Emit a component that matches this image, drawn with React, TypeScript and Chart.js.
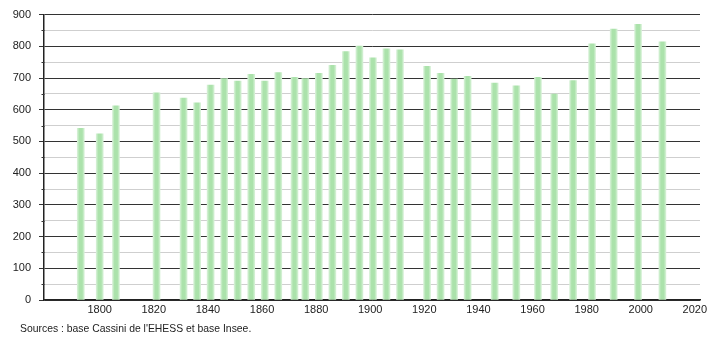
import React, { useEffect, useRef } from "react";
import { Chart, registerables } from "chart.js";

Chart.register(...registerables);

const years = [1793, 1800, 1806, 1821, 1831, 1836, 1841, 1846, 1851, 1856, 1861, 1866, 1872, 1876, 1881, 1886, 1891, 1896, 1901, 1906, 1911, 1921, 1926, 1931, 1936, 1946, 1954, 1962, 1968, 1975, 1982, 1990, 1999, 2008];
const population = [541, 524, 612, 653, 637, 622, 678, 698, 690, 712, 690, 717, 702, 698, 715, 740, 783, 801, 764, 792, 789, 737, 715, 697, 705, 684, 675, 702, 649, 692, 808, 854, 869, 814];
const yTickLabels = [0, 100, 200, 300, 400, 500, 600, 700, 800, 900];
const xTickLabels = [1800, 1820, 1840, 1860, 1880, 1900, 1920, 1940, 1960, 1980, 2000, 2020];
const sourceText = "Sources : base Cassini de l'EHESS et base Insee.";

const FONT = "'Liberation Sans', Arial, sans-serif";

const minorTicks = {
  id: "minorTicks",
  afterDraw(chart: any) {
    const y = chart.scales.y;
    const ctx = chart.ctx;
    ctx.save();
    ctx.strokeStyle = "#333";
    ctx.lineWidth = 1;
    for (let v = 50; v < 900; v += 100) {
      const py = Math.round(y.getPixelForValue(v)) + 0.5;
      ctx.beginPath();
      ctx.moveTo(y.right - 2.5, py);
      ctx.lineTo(y.right + 0.5, py);
      ctx.stroke();
    }
    ctx.restore();
  },
};

export default function App() {
  const ref = useRef<HTMLCanvasElement | null>(null);
  useEffect(() => {
    if (!ref.current) return;
    const chart = new Chart(ref.current, {
      type: "bar",
      data: {
        datasets: [
          {
            data: years.map((y, i) => ({ x: y, y: population[i] })),
            barThickness: 7,
            backgroundColor: (c: any) => {
              const xs = c.chart.scales?.x;
              if (!xs || !c.raw) return "#ade3ad";
              const px = xs.getPixelForValue(c.raw.x);
              if (!isFinite(px)) return "#ade3ad";
              const g = c.chart.ctx.createLinearGradient(px - 3.5, 0, px + 3.5, 0);
              g.addColorStop(0, "#d6f1d6");
              g.addColorStop(0.3, "#abe2ab");
              g.addColorStop(0.7, "#abe2ab");
              g.addColorStop(1, "#d6f1d6");
              return g;
            },
            borderWidth: 0,
          },
        ],
      },
      plugins: [minorTicks],
      options: {
        responsive: false,
        animation: false,
        layout: { padding: { left: 0, top: 10, right: 10, bottom: 0 } },
        plugins: { legend: { display: false }, tooltip: { enabled: false } },
        scales: {
          x: {
            type: "linear",
            min: 1779.4,
            max: 2021.9,
            offset: false,
            afterBuildTicks: (s: any) => {
              s.ticks = xTickLabels.map((v) => ({ value: v }));
            },
            afterFit: (s: any) => {
              s.height = 40;
              s.paddingRight = 0;
            },
            grid: { display: false, drawTicks: false },
            border: { display: true, color: "#222", width: 1.5 },
            ticks: {
              autoSkip: false,
              maxRotation: 0,
              padding: 3,
              color: "#222",
              font: { family: FONT, size: 11 },
              callback: (v: any) => String(v),
            },
          },
          y: {
            min: 0,
            max: 900,
            afterBuildTicks: (s: any) => {
              const t: any[] = [];
              for (let v = 0; v <= 900; v += 50) t.push({ value: v });
              s.ticks = t;
            },
            afterFit: (s: any) => {
              s.width = 44;
            },
            grid: {
              color: (c: any) => (c.tick && c.tick.value % 100 === 0 ? "#333333" : "#cfcfcf"),
              tickColor: (c: any) => (c.tick && c.tick.value % 100 === 0 ? "#333333" : "rgba(0,0,0,0)"),
              tickLength: 5,
              lineWidth: 1,
            },
            border: { display: true, color: "#222", width: 1.5 },
            ticks: {
              autoSkip: false,
              padding: 8,
              color: "#222",
              font: { family: FONT, size: 11 },
              callback: (v: any) => (yTickLabels.includes(Number(v)) ? String(v) : ""),
            },
          },
        },
      },
    });
    return () => chart.destroy();
  }, []);
  return (
    <div style={{ position: "absolute", left: 0, top: 0, width: 710, height: 340, background: "#fff" }}>
      <canvas ref={ref} width={710} height={340} />
      <div
        style={{
          position: "absolute",
          left: 20,
          top: 323,
          fontFamily: FONT,
          fontSize: 10.4,
          lineHeight: "12px",
          color: "#222",
          whiteSpace: "nowrap",
        }}
      >
        {sourceText}
      </div>
    </div>
  );
}
